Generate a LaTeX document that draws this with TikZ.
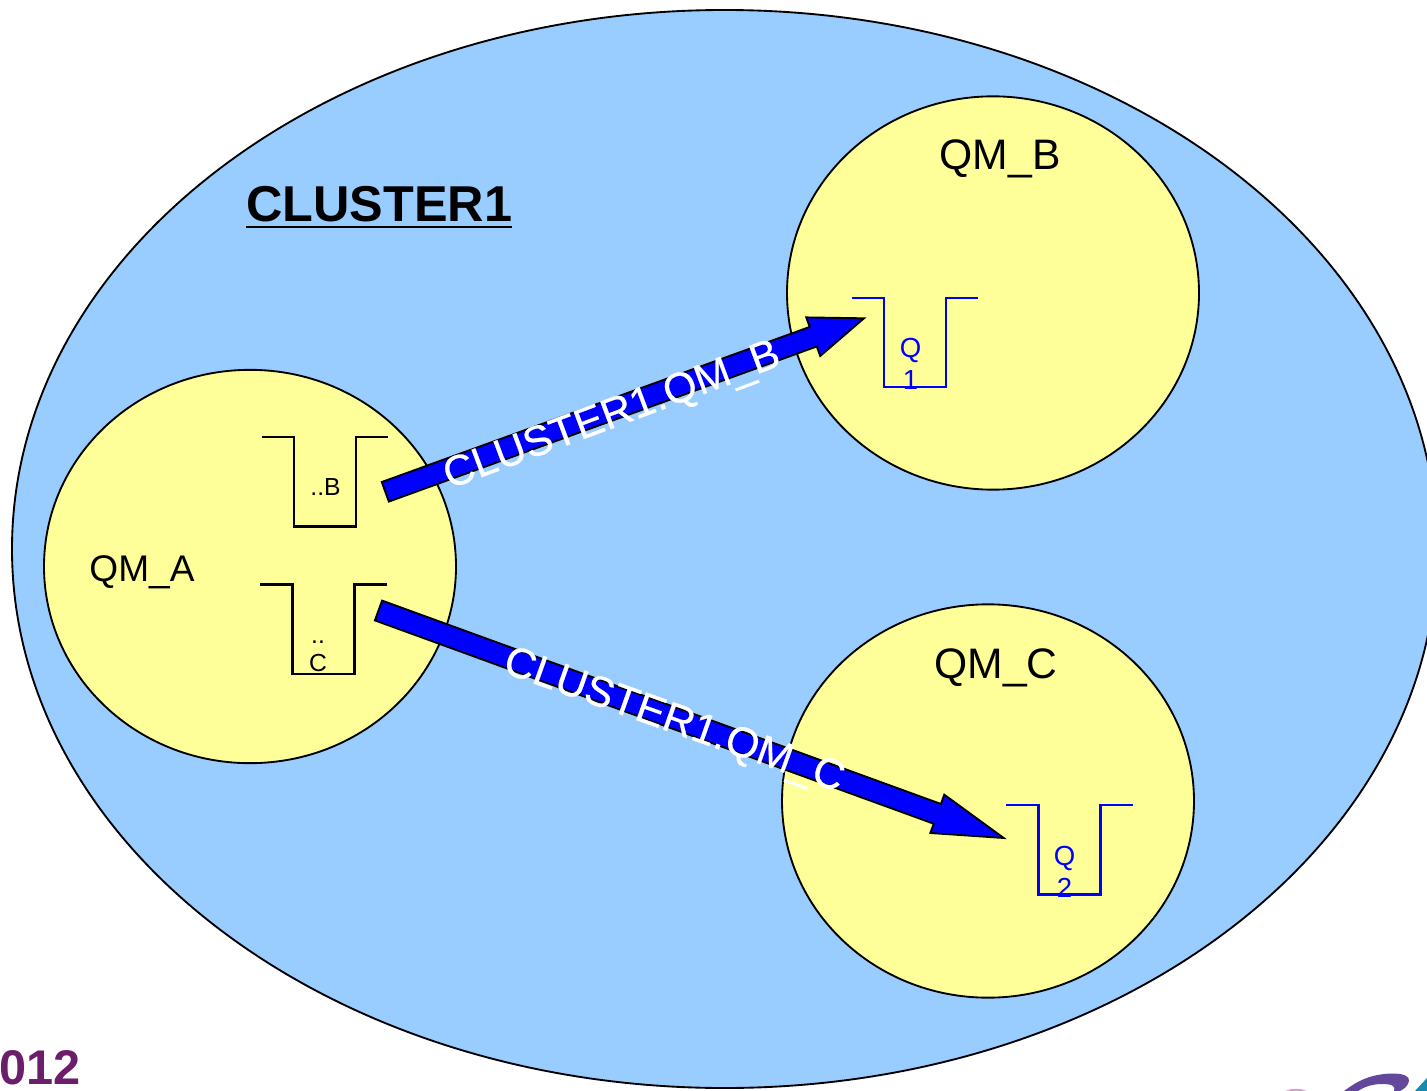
\documentclass[tikz,border=0pt]{standalone}
\usepackage{fontspec}
\setmainfont{Liberation Sans}
\usetikzlibrary{shapes.geometric,calc}
\definecolor{clusterblue}{HTML}{99CCFF}
\definecolor{qmyellow}{HTML}{FFFF99}
\definecolor{logopurple}{HTML}{6B1F6B}
\definecolor{logoviolet}{HTML}{62479A}
\definecolor{logoteal}{HTML}{1A8AB0}
\definecolor{logopink}{HTML}{D9A0C8}
\newcommand{\fatarrow}[5]{%
  \draw[fatarrowstyle]
    ($(#1)!#5!90:(#2)$) --
    ($(#2)!#3!(#1)!#5!-90:(#1)$) --
    ($(#2)!#3!(#1)!#4!-90:(#1)$) --
    (#2) --
    ($(#2)!#3!(#1)!#4!90:(#1)$) --
    ($(#2)!#3!(#1)!#5!90:(#1)$) --
    ($(#1)!#5!-90:(#2)$) -- cycle;}
\tikzset{
  x=0.75pt,y=-0.75pt,
  cluster/.style={ellipse,draw=black,fill=clusterblue,line width=1.4pt,inner sep=0pt,minimum width=1068.75pt,minimum height=808.5pt},
  qm/.style={ellipse,draw=black,fill=qmyellow,line width=1.4pt,inner sep=0pt,minimum width=309pt,minimum height=295pt},
  fatarrowstyle/.style={draw=black,fill=blue,line width=1.4pt,line join=miter},
  qmlabel/.style={font=\fontsize{32}{38}\selectfont,text=black,inner sep=0pt},
  qtext/.style={font=\fontsize{18.5}{21}\selectfont,align=center,inner sep=0pt},
  qbluetext/.style={font=\fontsize{20.7}{24}\selectfont,align=center,inner sep=0pt,text=blue},
  routelabel/.style={font=\fontsize{32}{38}\selectfont\addfontfeature{FakeBold=0.5,Kerning=Off},text=white,inner sep=0pt},
  queueline/.style={line width=1.7pt,line join=miter},
  queue/.pic={\draw[pic actions,queueline] (-32.5,0) -- (0,0) -- (0,89.5) -- (62,89.5) -- (62,0) -- (94,0);},
}
\begin{document}
\begin{tikzpicture}
\useasboundingbox (0,0) rectangle (1427,1091);
\clip (0,0) rectangle (1427,1091);
\fill[white] (0,0) rectangle (1427,1091);
% logo remnants
\node[anchor=base east,inner sep=0pt,text=logopurple,font=\fontsize{36.5}{40}\selectfont\bfseries] (year) at (81,1084) {2012};
\fill[logoviolet] (1344,1091) .. controls (1355,1083) and (1368,1074) .. (1392,1073.5) .. controls (1403,1073.5) and (1410,1076) .. (1409,1081) .. controls (1408,1086) and (1404,1089) .. (1400,1091) -- (1394,1091) .. controls (1396,1086) and (1392,1084) .. (1382,1084) .. controls (1372,1084) and (1364,1087) .. (1358,1091) -- cycle;
\fill[logoteal] (1415,1091) -- (1427,1078) -- (1427,1091) -- cycle;
\fill[logopink] (1285,1091) .. controls (1292,1088) and (1300,1088) .. (1307,1091) -- cycle;
% shapes
\node[cluster] (cluster) at (724.5,549) {};
\node[qm] (qma) at (250,566.5) {};
\node[qm] (qmb) at (993,293) {};
\node[qm] (qmc) at (988,801) {};
\pic[black] at (294,437) {queue};
\pic[black] at (292.5,584.5) {queue};
\pic[blue] at (884,297.7) {queue};
\pic[blue] at (1038.5,805) {queue};
% arrows
\coordinate (tailb) at (385.3,491.8);
\coordinate (tipb) at (864,318.3);
\coordinate (tailc) at (378.5,610.5);
\coordinate (tipc) at (1003.7,838);
\fatarrow{tailb}{tipb}{40.5pt}{15.4pt}{7.8pt}
\fatarrow{tailc}{tipc}{53pt}{15.3pt}{7.9pt}
% labels
\node[anchor=base west,inner sep=0pt,font=\fontsize{37.8}{42}\selectfont\bfseries] (title) at (246,222) {\setbox0=\hbox{CLUSTER1}\copy0\llap{\rule[-4.7pt]{\wd0}{1.6pt}}};
\node[qmlabel,font=\fontsize{27.8}{34}\selectfont,anchor=base] (la) at (142,581.5) {QM\_A};
\node[qmlabel,anchor=base] (lb) at (1000,170) {QM\_B};
\node[qmlabel,anchor=base] (lc) at (996,678) {QM\_C};
\node[qtext,anchor=base] (qb) at (325.5,495) {..B};
\node[qtext,anchor=base] (qc) at (318,671) {..\\C};
\node[qbluetext,anchor=base] (q1) at (910.5,389) {Q\\1};
\node[qbluetext,anchor=base] (q2) at (1064.5,897) {Q\\2};
\node[routelabel,rotate=20.5] (rb) at (612.5,417) {CLUSTER1.QM\_B};
\node[routelabel,rotate=-19.6] (rc) at (673.5,722) {CLUSTER1.QM\_C};
\end{tikzpicture}
\end{document}
